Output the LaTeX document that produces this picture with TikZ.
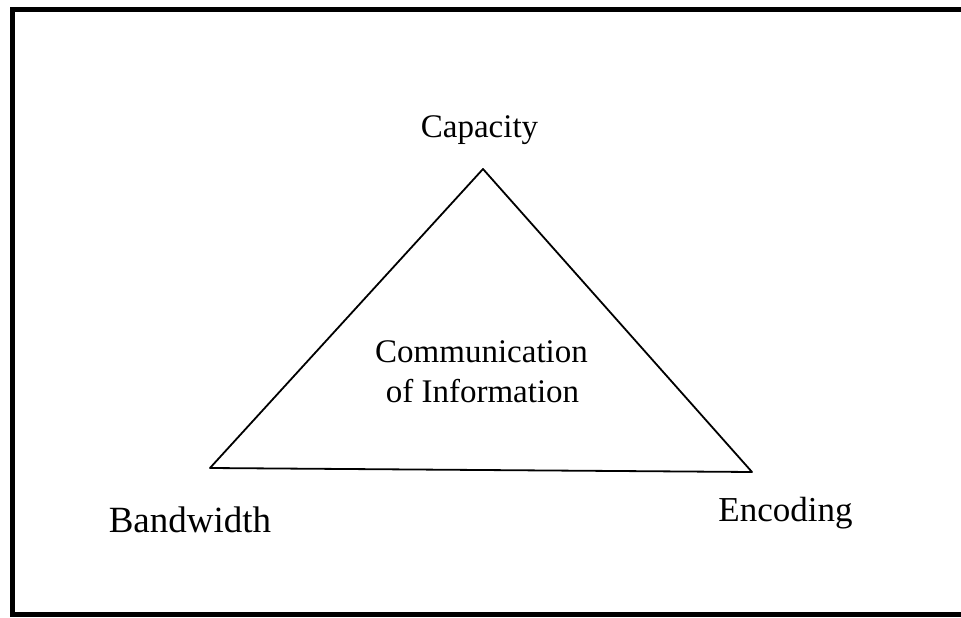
\documentclass[tikz,border=0pt]{standalone}
\usepackage{fontspec}
\setmainfont{Liberation Serif}
\begin{document}
\begin{tikzpicture}[x=1pt,y=-1pt,
  lbl/.style={inner sep=0pt, anchor=base, font=\fontsize{33}{40}\selectfont},
  frame/.style={line width=4.8pt, line join=miter},
  tri/.style={line width=1.8pt, line join=round}]
\useasboundingbox (0,0) rectangle (961,618);
\draw[frame] (961,9.5) -- (12.5,9.5) -- (12.5,614.5) -- (961,614.5);
\coordinate (top) at (483,169);
\coordinate (left) at (210,468);
\coordinate (right) at (752,472);
\draw[tri] (top) -- (left) -- (right) -- cycle;
\node[lbl] (cap) at (479.5,137) {Capacity};
\node[lbl] (comm) at (481.5,362) {Communication};
\node[lbl] (info) at (482.5,402) {of Information};
\node[lbl, font=\fontsize{37}{44}\selectfont] (band) at (190,532) {Bandwidth};
\node[lbl, font=\fontsize{35}{42}\selectfont] (enc) at (785.5,521) {Encoding};
\end{tikzpicture}
\end{document}
